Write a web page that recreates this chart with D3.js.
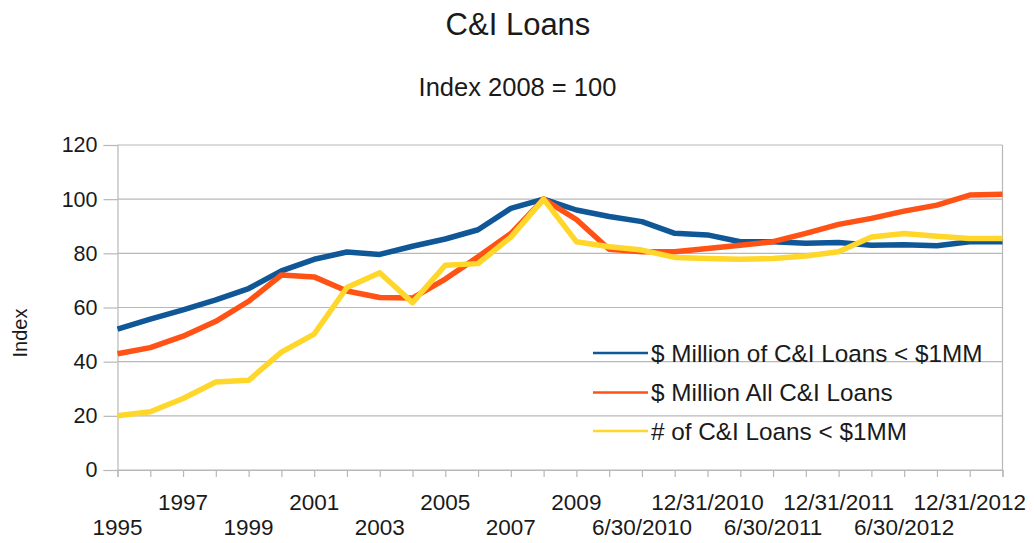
<!DOCTYPE html>
<html>
<head>
<meta charset="utf-8">
<script src="https://cdn.jsdelivr.net/npm/d3@7"></script>
<style>
  html, body { margin: 0; padding: 0; background: #fff; }
  svg { display: block; font-family: "Liberation Sans", Arial, Helvetica, sans-serif; }
</style>
</head>
<body>
<svg id="chart" width="1034" height="543"></svg>
<script>
// Period labels: annual through 2009, quarterly afterwards
const categories = [
  "1995", "1996", "1997", "1998", "1999", "2000", "2001", "2002", "2003", "2004",
  "2005", "2006", "2007", "2008", "2009",
  "3/31/2010", "6/30/2010", "9/30/2010", "12/31/2010",
  "3/31/2011", "6/30/2011", "9/30/2011", "12/31/2011",
  "3/31/2012", "6/30/2012", "9/30/2012", "12/31/2012",
  "3/31/2013"
];

const smallLoanVolume = [52, 55.7, 59.1, 62.8, 67, 73.5, 77.8, 80.5, 79.6, 82.6,
  85.3, 88.7, 96.6, 100, 96, 93.6, 91.7, 87.4, 86.8, 84.3,
  84.3, 83.7, 84, 83, 83.2, 82.8, 84.3, 84.3];

const allLoanVolume = [42.9, 45.2, 49.4, 54.9, 62.3, 72, 71.3, 66.1, 63.7, 63.5,
  70.5, 78.7, 87.3, 100, 92.5, 81.5, 80.6, 80.6, 81.8, 83,
  84.3, 87.4, 90.7, 92.9, 95.6, 97.8, 101.5, 101.8];

const smallLoanCount = [20, 21.5, 26.4, 32.5, 33.1, 43.5, 50.2, 67.4, 72.8, 61.8,
  75.6, 76.2, 86, 100, 84.3, 82.4, 81.2, 78.5, 78.1, 77.8,
  78.1, 79, 80.6, 86, 87.3, 86.3, 85.5, 85.5];

const seriesNames = [
  "$ Million of C&I Loans < $1MM",
  "$ Million All C&I Loans",
  "# of C&I Loans < $1MM"
];
const seriesColors = ["#0f5796", "#ff5214", "#ffd62a"];
const yTicks = [0, 20, 40, 60, 80, 100, 120];

const series = [smallLoanVolume, allLoanVolume, smallLoanCount].map((values, k) => ({
  name: seriesNames[k],
  color: seriesColors[k],
  values
}));

const svg = d3.select("#chart");
const plotLeft = 117.5, plotRight = 1002.5, plotTop = 145, plotBottom = 470;
const gridColor = "#b8b8b8";

const x = d3.scalePoint().domain(categories).range([plotLeft, plotRight]);
const y = d3.scaleLinear().domain([0, 120]).range([plotBottom, plotTop]);

// Titles
svg.append("text").attr("x", 518).attr("y", 35).attr("text-anchor", "middle")
  .attr("font-size", 31).attr("fill", "#1a1a1a").text("C&I Loans");
svg.append("text").attr("x", 517.5).attr("y", 96).attr("text-anchor", "middle")
  .attr("font-size", 25.5).attr("fill", "#1a1a1a").text("Index 2008 = 100");

// Horizontal gridlines
svg.append("g").selectAll("line").data(yTicks).join("line")
  .attr("x1", plotLeft).attr("x2", plotRight)
  .attr("y1", d => y(d)).attr("y2", d => y(d))
  .attr("stroke", gridColor).attr("stroke-width", 1.2);

// Right wall edge
svg.append("line").attr("x1", plotRight).attr("x2", plotRight)
  .attr("y1", plotTop).attr("y2", plotBottom)
  .attr("stroke", gridColor).attr("stroke-width", 1.2);

// Y axis
const yAxis = d3.axisLeft(y).tickValues(yTicks).tickSize(14).tickPadding(6);
const gy = svg.append("g").attr("transform", `translate(${plotLeft},0)`).call(yAxis);
gy.select(".domain").attr("stroke", gridColor).attr("stroke-width", 1.2);
gy.selectAll(".tick line").attr("stroke", gridColor).attr("stroke-width", 1.2);
gy.selectAll(".tick text").attr("font-size", 21.5).attr("fill", "#1a1a1a")
  .attr("font-family", "Liberation Sans, Arial, sans-serif");

// X axis: every category ticked, every other one labelled on two staggered rows
const xAxis = d3.axisBottom(x).tickSize(7).tickFormat(() => "");
const gx = svg.append("g").attr("transform", `translate(0,${plotBottom})`).call(xAxis);
gx.select(".domain").attr("stroke", gridColor).attr("stroke-width", 1.2);
gx.selectAll(".tick line").attr("stroke", gridColor).attr("stroke-width", 1.2);

const labelled = categories.map((c, i) => ({ c, i })).filter(d => d.i % 2 === 0);
svg.append("g").selectAll("text").data(labelled).join("text")
  .attr("x", d => x(d.c))
  .attr("y", d => d.i % 4 === 2 ? 510 : 535)
  .attr("text-anchor", "middle")
  .attr("font-size", 22.5).attr("fill", "#1a1a1a")
  .text(d => d.c);

// Y axis title
svg.append("text")
  .attr("transform", "translate(27,333) rotate(-90)")
  .attr("text-anchor", "middle").attr("font-size", 20).attr("fill", "#1a1a1a")
  .text("Index");

// Series lines
const line = d3.line().x((d, i) => x(categories[i])).y(d => y(d));
svg.append("g").selectAll("path").data(series).join("path")
  .attr("d", d => line(d.values))
  .attr("fill", "none")
  .attr("stroke", d => d.color)
  .attr("stroke-width", 5.5)
  .attr("stroke-linejoin", "round")
  .attr("stroke-linecap", "butt");

// Legend
const legend = svg.append("g").attr("transform", "translate(593,0)");
const rowsY = [353, 392.5, 431];
const items = legend.selectAll("g").data(series).join("g")
  .attr("transform", (d, i) => `translate(0,${rowsY[i]})`);
items.append("line").attr("x1", 0).attr("x2", 55).attr("y1", 0).attr("y2", 0)
  .attr("stroke", d => d.color).attr("stroke-width", 2.5);
items.append("text").attr("x", 58).attr("y", 0).attr("dy", "0.35em")
  .attr("font-size", 24.3).attr("fill", "#1a1a1a")
  .text(d => d.name);
</script>
</body>
</html>
